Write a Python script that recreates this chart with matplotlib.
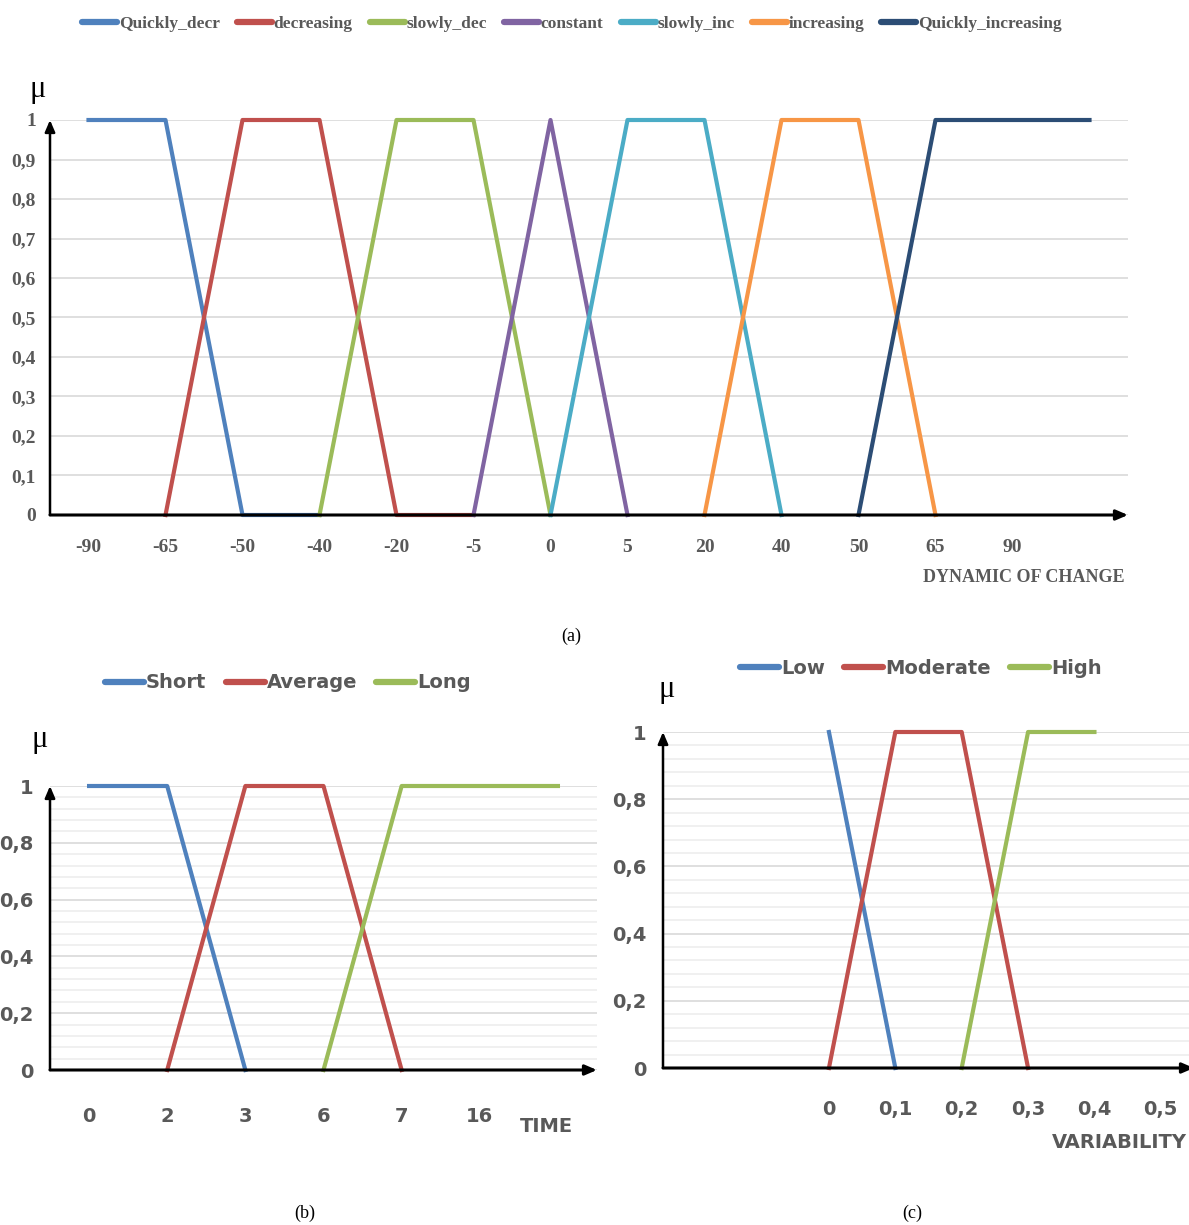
import numpy as np
import matplotlib
matplotlib.use("Agg")
import matplotlib.pyplot as plt
from matplotlib.ticker import MultipleLocator

nan = np.nan

# (a) dynamic of change
dyn_cats = ['-90', '-65', '-50', '-40', '-20', '-5', '0', '5', '20', '40', '50', '65', '90', '']
dyn_names = ['Quickly_decr', 'decreasing', 'slowly_dec', 'constant', 'slowly_inc', 'increasing', 'Quickly_increasing']
quickly_decr = [1, 1, 0, 0, nan, nan, nan, nan, nan, nan, nan, nan, nan, nan]
decreasing = [nan, 0, 1, 1, 0, 0, nan, nan, nan, nan, nan, nan, nan, nan]
slowly_dec = [nan, nan, nan, 0, 1, 1, 0, nan, nan, nan, nan, nan, nan, nan]
constant = [nan, nan, nan, nan, nan, 0, 1, 0, nan, nan, nan, nan, nan, nan]
slowly_inc = [nan, nan, nan, nan, nan, nan, 0, 1, 1, 0, nan, nan, nan, nan]
increasing = [nan, nan, nan, nan, nan, nan, nan, nan, 0, 1, 1, 0, nan, nan]
quickly_inc = [nan, nan, nan, nan, nan, nan, nan, nan, nan, nan, 0, 1, 1, 1]
dyn_series = [quickly_decr, decreasing, slowly_dec, constant, slowly_inc, increasing, quickly_inc]

# (b) time
time_cats = ['0', '2', '3', '6', '7', '16', '']
time_names = ['Short', 'Average', 'Long']
short = [1, 1, 0, nan, nan, nan, nan]
average = [nan, 0, 1, 1, 0, nan, nan]
long_ = [nan, nan, nan, 0, 1, 1, 1]
time_series = [short, average, long_]

# (c) variability
var_cats = ['', '', '0', '0,1', '0,2', '0,3', '0,4', '0,5']
var_names = ['Low', 'Moderate', 'High']
low = [nan, nan, 1, 0, nan, nan, nan, nan]
moderate = [nan, nan, 0, 1, 1, 0, nan, nan]
high = [nan, nan, nan, nan, 0, 1, 1, nan]
var_series = [low, moderate, high]

colors7 = ['#4F81BD', '#C0504D', '#9BBB59', '#8064A2', '#4BACC6', '#F79646', '#2C4D75']
gray = '#595959'
serif = ['Liberation Serif', 'DejaVu Serif']
narrow = ['Liberation Sans Narrow', 'DejaVu Sans']

W, H = 1189, 1225
fig = plt.figure(figsize=(W / 100, H / 100), dpi=100)


def px_axes(left, right, top, bottom):
    return fig.add_axes([left / W, 1 - bottom / H, (right - left) / W, (bottom - top) / H])


def arrows(ax):
    for s in ax.spines.values():
        s.set_visible(False)
    ax.annotate('', xy=(1, 0), xytext=(0, 0), xycoords='axes fraction',
                arrowprops=dict(arrowstyle='-|>,head_length=0.7,head_width=0.3', color='black', lw=2.2,
                                shrinkA=0, shrinkB=0), annotation_clip=False)
    ax.annotate('', xy=(0, 1.0), xytext=(0, 0), xycoords='axes fraction',
                arrowprops=dict(arrowstyle='-|>,head_length=0.7,head_width=0.3', color='black', lw=1.8,
                                shrinkA=0, shrinkB=0), annotation_clip=False)


def frac_label(v):
    if abs(v) < 1e-9:
        return '0'
    if abs(v - 1) < 1e-9:
        return '1'
    return ('%g' % round(v, 2)).replace('.', ',')


def fat_legend(leg):
    for ln in leg.get_lines():
        ln.set_linewidth(4.5)
        ln.set_solid_capstyle('round')


# ---------- (a) ----------
axa = px_axes(50, 1128, 120, 515)
x = np.arange(len(dyn_cats))
for vals, name, c in zip(dyn_series, dyn_names, colors7):
    axa.plot(x, vals, color=c, lw=3, label=name, solid_joinstyle='round', clip_on=False)
axa.set_xlim(-0.5, len(dyn_cats) - 0.5)
axa.set_ylim(0, 1)
axa.set_xticks(x)
axa.set_xticklabels(dyn_cats)
yt = np.round(np.arange(0, 1.01, 0.1), 1)
axa.set_yticks(yt)
axa.set_yticklabels([frac_label(v) for v in yt])
axa.grid(axis='y', color='#d9d9d9', lw=1.2)
axa.set_axisbelow(True)
axa.tick_params(length=0)
axa.tick_params(axis='x', pad=17)
axa.tick_params(axis='y', pad=10)
for lab in axa.get_xticklabels() + axa.get_yticklabels():
    lab.set_fontfamily(serif)
    lab.set_fontweight('bold')
    lab.set_fontsize(14)
    lab.set_color(gray)
arrows(axa)
fig.text(38 / W, 1 - 90 / H, 'μ', fontsize=22, family=serif, ha='center', va='center')
fig.text(1125 / W, 1 - 578 / H, 'DYNAMIC OF CHANGE', fontsize=13, family=serif, fontweight='bold',
         color=gray, ha='right', va='center')
leg = fig.legend(*axa.get_legend_handles_labels(), loc='center', bbox_to_anchor=(572 / W, 1 - 24 / H),
                 ncol=7, frameon=False, handlelength=2.0, handletextpad=0.1, columnspacing=1.0,
                 prop=dict(family=serif, weight='bold', size=12.5), labelcolor=gray)
fat_legend(leg)
fig.text(571 / W, 1 - 636 / H, '(a)', fontsize=13, family=serif, ha='center', va='center')


def small_panel(ax, cats, series, names, colors):
    xs = np.arange(len(cats))
    for vals, name, c in zip(series, names, colors):
        ax.plot(xs, vals, color=c, lw=3, label=name, solid_joinstyle='round', clip_on=False)
    ax.set_xlim(-0.5, len(cats) - 0.5)
    ax.set_ylim(0, 1)
    ax.set_xticks(xs)
    ax.set_xticklabels(cats)
    ytk = np.round(np.arange(0, 1.01, 0.2), 1)
    ax.set_yticks(ytk)
    ax.set_yticklabels([frac_label(v) for v in ytk])
    ax.yaxis.set_minor_locator(MultipleLocator(0.04))
    ax.grid(axis='y', which='minor', color='#eeeeee', lw=1.2)
    ax.grid(axis='y', which='major', color='#d9d9d9', lw=1.2)
    ax.set_axisbelow(True)
    ax.tick_params(which='both', length=0)
    ax.tick_params(axis='y', pad=12)
    for lab in ax.get_xticklabels() + ax.get_yticklabels():
        lab.set_fontfamily(narrow)
        lab.set_fontweight('bold')
        lab.set_fontsize(14)
        lab.set_color(gray)
    arrows(ax)


# ---------- (b) ----------
axb = px_axes(50, 597, 786, 1070)
small_panel(axb, time_cats, time_series, time_names, colors7[:3])
axb.tick_params(axis='x', pad=27)
fig.text(40 / W, 1 - 740 / H, 'μ', fontsize=22, family=serif, ha='center', va='center')
fig.text(546 / W, 1 - 1126 / H, 'TIME', fontsize=14, family=narrow, fontweight='bold',
         color=gray, ha='center', va='center')
leg = fig.legend(*axb.get_legend_handles_labels(), loc='center', bbox_to_anchor=(288 / W, 1 - 683 / H),
                 ncol=3, frameon=False, handlelength=2.0, handletextpad=0.1, columnspacing=1.0,
                 prop=dict(family=narrow, weight='bold', size=14), labelcolor=gray)
fat_legend(leg)
fig.text(305 / W, 1 - 1213 / H, '(b)', fontsize=13, family=serif, ha='center', va='center')

# ---------- (c) ----------
axc = px_axes(663, 1194, 732, 1068)
small_panel(axc, var_cats, var_series, var_names, colors7[:3])
axc.tick_params(axis='x', pad=23)
fig.text(667 / W, 1 - 690 / H, 'μ', fontsize=22, family=serif, ha='center', va='center')
fig.text(1187 / W, 1 - 1143 / H, 'VARIABILITY', fontsize=14, family=narrow, fontweight='bold',
         color=gray, ha='right', va='center')
leg = fig.legend(*axc.get_legend_handles_labels(), loc='center', bbox_to_anchor=(921 / W, 1 - 668 / H),
                 ncol=3, frameon=False, handlelength=2.0, handletextpad=0.1, columnspacing=1.0,
                 prop=dict(family=narrow, weight='bold', size=14), labelcolor=gray)
fat_legend(leg)
fig.text(912 / W, 1 - 1213 / H, '(c)', fontsize=13, family=serif, ha='center', va='center')

fig.savefig('out.png', dpi=100)
